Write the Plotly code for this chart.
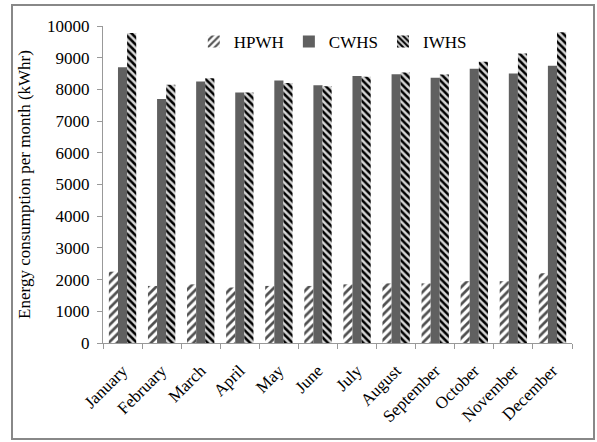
import plotly.graph_objects as go

months = ["January", "February", "March", "April", "May", "June", "July",
          "August", "September", "October", "November", "December"]
hpwh = [2250, 1800, 1850, 1750, 1800, 1800, 1850, 1880, 1880, 1950, 1950, 2200]
cwhs = [8700, 7700, 8250, 7900, 8280, 8130, 8420, 8480, 8370, 8650, 8500, 8750]
iwhs = [9780, 8150, 8350, 7900, 8200, 8100, 8400, 8530, 8470, 8870, 9130, 9800]

FONT = "Liberation Serif"

fig = go.Figure()
fig.add_trace(go.Bar(
    name="HPWH", x=months, y=hpwh,
    marker=dict(color="white", line=dict(width=0),
                pattern=dict(shape="/", fgcolor="#505050", bgcolor="white",
                             size=6, solidity=0.45, fillmode="replace")),
))
fig.add_trace(go.Bar(
    name="CWHS", x=months, y=cwhs,
    marker=dict(color="#606060", line=dict(width=0)),
))
fig.add_trace(go.Bar(
    name="IWHS", x=months, y=iwhs,
    marker=dict(color="#d4d4d4", line=dict(width=0),
                pattern=dict(shape="\\", fgcolor="#000000", bgcolor="#d4d4d4",
                             size=5, solidity=0.5, fillmode="replace")),
))

fig.update_layout(
    width=597, height=442,
    margin=dict(l=103, r=25, t=26, b=99),
    paper_bgcolor="white", plot_bgcolor="white",
    barmode="group", bargap=0.3, bargroupgap=0,
    font=dict(family=FONT, size=17, color="#000000"),
    showlegend=True,
    legend=dict(orientation="h", x=0.49, xanchor="center", y=0.95, yanchor="middle",
                font=dict(family=FONT, size=17), bgcolor="rgba(0,0,0,0)",
                itemwidth=30, tracegroupgap=0),
    xaxis=dict(type="category", showgrid=False, showline=True, linecolor="#999999",
               linewidth=1, ticks="outside", tickson="boundaries", ticklen=5,
               tickcolor="#999999", tickangle=-45, ticklabelstandoff=10,
               tickfont=dict(family=FONT, size=17)),
    yaxis=dict(range=[0, 10000], dtick=1000, tickformat="d", showgrid=False,
               showline=True, linecolor="#999999", linewidth=1, ticks="outside",
               ticklen=5, tickcolor="#999999", tickfont=dict(family=FONT, size=17),
               ticklabelstandoff=4,
               title=dict(text="Energy consumption per month (kWhr)",
                          font=dict(family=FONT, size=17), standoff=12),
               zeroline=False),
    shapes=[dict(type="rect", xref="paper", yref="paper",
                 x0=(12 - 103) / 469, x1=(594 - 103) / 469,
                 y0=(343 - 439) / 317, y1=(343 - 5) / 317,
                 line=dict(color="#888888", width=2), fillcolor="rgba(0,0,0,0)",
                 layer="below")],
)

fig.write_html("out.html", post_script="document.body.style.margin='0';",
               config={"displayModeBar": False})
